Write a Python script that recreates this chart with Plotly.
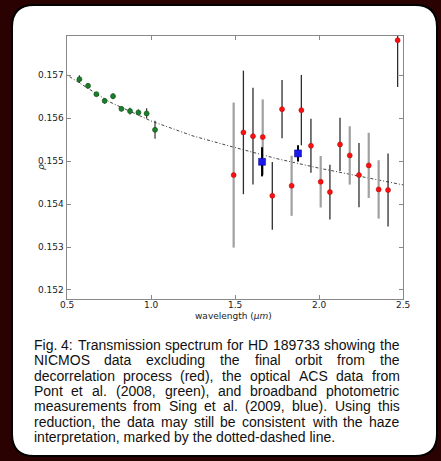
import plotly.graph_objects as go

# ---------------- data ----------------
acs_wl = [0.574, 0.625, 0.675, 0.724, 0.774, 0.824, 0.875, 0.925, 0.974, 1.024]
acs_rho = [0.156914, 0.156758, 0.156565, 0.156408, 0.156518, 0.156222, 0.156169, 0.156138, 0.156115, 0.155733]
acs_err = [0.00009, 0.00006, 0.00005, 0.000066, 0.00007, 0.00006, 0.00008, 0.00007, 0.00012, 0.00021]

nic_wl = [1.492, 1.550, 1.607, 1.665, 1.722, 1.780, 1.837, 1.895, 1.952, 2.010,
          2.065, 2.125, 2.183, 2.238, 2.296, 2.355, 2.411, 2.468]
nic_rho = [0.154678, 0.155673, 0.155586, 0.155563, 0.154196, 0.156215, 0.154429, 0.156192, 0.155361, 0.154522,
           0.154282, 0.155393, 0.155137, 0.154678, 0.154904, 0.154345, 0.154329, 0.157822]
nic_err = [0.00169, 0.00144, 0.00113, 0.00088, 0.00079, 0.00068, 0.00070, 0.00082, 0.00063, 0.00060,
           0.00064, 0.00062, 0.00068, 0.00075, 0.00076, 0.00068, 0.00085, 0.00109]

sing_wl = [1.661, 1.875]
sing_rho = [0.154988, 0.155183]
sing_err = [0.00034, 0.00019]

haze_wl = [0.5, 0.75, 1.0, 1.25, 1.5, 1.75, 2.0, 2.25, 2.5]
haze_rho = [0.157010, 0.156390, 0.155940, 0.155590, 0.155320, 0.155060, 0.154840, 0.154640, 0.154450]

x_ticks = [0.5, 1.0, 1.5, 2.0, 2.5]
y_ticks = [0.152, 0.153, 0.154, 0.155, 0.156, 0.157]
x_tick_labels = ["0.5", "1.0", "1.5", "2.0", "2.5"]
y_tick_labels = ["0.152", "0.153", "0.154", "0.155", "0.156", "0.157"]

caption_lines = [
    "Fig. 4: Transmission spectrum for HD 189733  showing the",
    "NICMOS data excluding the final orbit from the",
    "decorrelation process (red), the optical ACS data from",
    "Pont et al. (2008, green), and broadband photometric",
    "measurements from Sing et al. (2009, blue). Using this",
    "reduction, the data may still be consistent with the haze",
    "interpretation, marked by the dotted-dashed line.",
]

# ---------------- style ----------------
W, H = 441, 461
L, R, T, B = 67, 38, 36, 162
PW, PH = W - L - R, H - T - B
light_idx = [0, 3, 6, 9, 12, 14, 15]


def xp(px):
    return (px - L) / PW


def yp(py):
    return (H - B - py) / PH


fig = go.Figure()

fig.add_trace(go.Scatter(x=haze_wl, y=haze_rho, mode="lines",
                         line=dict(color="#444444", width=1, dash="1px,2px,3px,2px"),
                         hoverinfo="skip", showlegend=False))

fig.add_trace(go.Scatter(x=acs_wl, y=acs_rho, mode="markers",
                         error_y=dict(type="data", array=acs_err, color="#333333", thickness=1.2, width=0),
                         marker=dict(color="#1a7f2a", size=5, line=dict(color="#0e4a18", width=0.6)),
                         showlegend=False))

dark_idx = [i for i in range(len(nic_wl)) if i not in light_idx]
for idx, col, th in [(light_idx, "#a0a0a0", 2.2), (dark_idx, "#2e2e2e", 1.3)]:
    fig.add_trace(go.Scatter(x=[nic_wl[i] for i in idx], y=[nic_rho[i] for i in idx], mode="markers",
                             error_y=dict(type="data", array=[nic_err[i] for i in idx], color=col,
                                          thickness=th, width=0),
                             marker=dict(color="#ff1010", size=5, line=dict(color="#aa0000", width=0.5)),
                             showlegend=False))

fig.add_trace(go.Scatter(x=sing_wl, y=sing_rho, mode="markers",
                         error_y=dict(type="data", array=sing_err, color="#000000", thickness=2, width=0),
                         marker=dict(color="#1a1aee", size=7, symbol="square",
                                     line=dict(color="#000088", width=0.5)),
                         showlegend=False))

axis_common = dict(showline=True, mirror="ticks", linecolor="#888888", linewidth=1,
                   ticks="inside", ticklen=4, tickcolor="#888888", showgrid=False, zeroline=False,
                   showticklabels=False)
fig.update_xaxes(range=[0.5, 2.5], tickvals=x_ticks, **axis_common)
fig.update_yaxes(range=[0.15179, 0.15792], tickvals=y_ticks, **axis_common)

# panel
def rrect(x0, y0, x1, y1, r):
    X0, X1 = xp(x0), xp(x1)
    Y0, Y1 = yp(y0), yp(y1)
    rx, ry = r / PW, r / PH
    return (f"M {X0+rx},{Y0} L {X1-rx},{Y0} Q {X1},{Y0} {X1},{Y0-ry} "
            f"L {X1},{Y1+ry} Q {X1},{Y1} {X1-rx},{Y1} L {X0+rx},{Y1} Q {X0},{Y1} {X0},{Y1+ry} "
            f"L {X0},{Y0-ry} Q {X0},{Y0} {X0+rx},{Y0} Z")


fig.add_shape(type="path", xref="paper", yref="paper", path=rrect(12, 5, 437, 456, 22),
              fillcolor="#ffffff", line=dict(color="#000000", width=2), layer="below")

tick_font = dict(family="DejaVu Sans", size=9, color="#222222")
annotations = [
    dict(x=xp(233), y=yp(316), xref="paper", yref="paper", text="wavelength (<i>μm</i>)",
         showarrow=False, yanchor="middle", font=tick_font),
    dict(x=xp(34), y=yp(167), xref="paper", yref="paper", text="<i>ρ</i>", textangle=-90,
         showarrow=False, font=tick_font),
]
for v, t in zip(x_ticks, x_tick_labels):
    annotations.append(dict(x=v, y=yp(305), xref="x", yref="paper", text=t, showarrow=False,
                            xanchor="center", yanchor="middle", font=tick_font, borderpad=0))
for v, t in zip(y_ticks, y_tick_labels):
    annotations.append(dict(x=xp(65), y=v, xref="paper", yref="y", text=t, showarrow=False,
                            xanchor="right", yanchor="middle", font=tick_font, borderpad=0))

# Arial / Liberation Sans advance widths (per 1000 em)
AW = {' ': 278, '(': 333, ')': 333, ',': 278, '-': 333, '.': 278, ':': 278,
      'A': 667, 'B': 667, 'C': 722, 'D': 722, 'E': 667, 'F': 611, 'G': 778, 'H': 722, 'I': 278,
      'J': 500, 'K': 667, 'L': 556, 'M': 833, 'N': 722, 'O': 778, 'P': 667, 'Q': 778, 'R': 722,
      'S': 667, 'T': 611, 'U': 722, 'V': 667, 'W': 944, 'X': 667, 'Y': 667, 'Z': 611,
      'a': 556, 'b': 556, 'c': 500, 'd': 556, 'e': 556, 'f': 278, 'g': 556, 'h': 556, 'i': 222,
      'j': 222, 'k': 500, 'l': 222, 'm': 833, 'n': 556, 'o': 556, 'p': 556, 'q': 556, 'r': 333,
      's': 500, 't': 278, 'u': 556, 'v': 500, 'w': 722, 'x': 500, 'y': 500, 'z': 500}
FS = 14
cx0, cx1 = 32.5, 398.5
cy0, cstep = 345, 15.35


def wwidth(s):
    return sum(AW.get(c, 556) for c in s) * FS / 1000.0


cap_font = dict(family="Liberation Sans, Arial", size=FS, color="#111111")
for li, line in enumerate(caption_lines):
    y = yp(cy0 + li * cstep)
    if li == len(caption_lines) - 1:
        annotations.append(dict(x=xp(cx0), y=y, xref="paper", yref="paper", text=line, xanchor="left",
                                yanchor="middle", showarrow=False, font=cap_font, borderpad=0))
        continue
    words = line.split()
    ws = [wwidth(w) for w in words]
    gap = (cx1 - cx0 - sum(ws)) / (len(words) - 1)
    pos = cx0
    for w, wd in zip(words, ws):
        annotations.append(dict(x=xp(pos), y=y, xref="paper", yref="paper", text=w, xanchor="left",
                                yanchor="middle", showarrow=False, font=cap_font, borderpad=0))
        pos += wd + gap

fig.update_layout(width=W, height=H, margin=dict(l=L, r=R, t=T, b=B, pad=0),
                  paper_bgcolor="#2a0202", plot_bgcolor="#ffffff",
                  annotations=annotations, showlegend=False)

fig.write_html("out.html", config={"displayModeBar": False},
               post_script="document.body.style.margin='0';document.body.style.background='#2a0202';")
